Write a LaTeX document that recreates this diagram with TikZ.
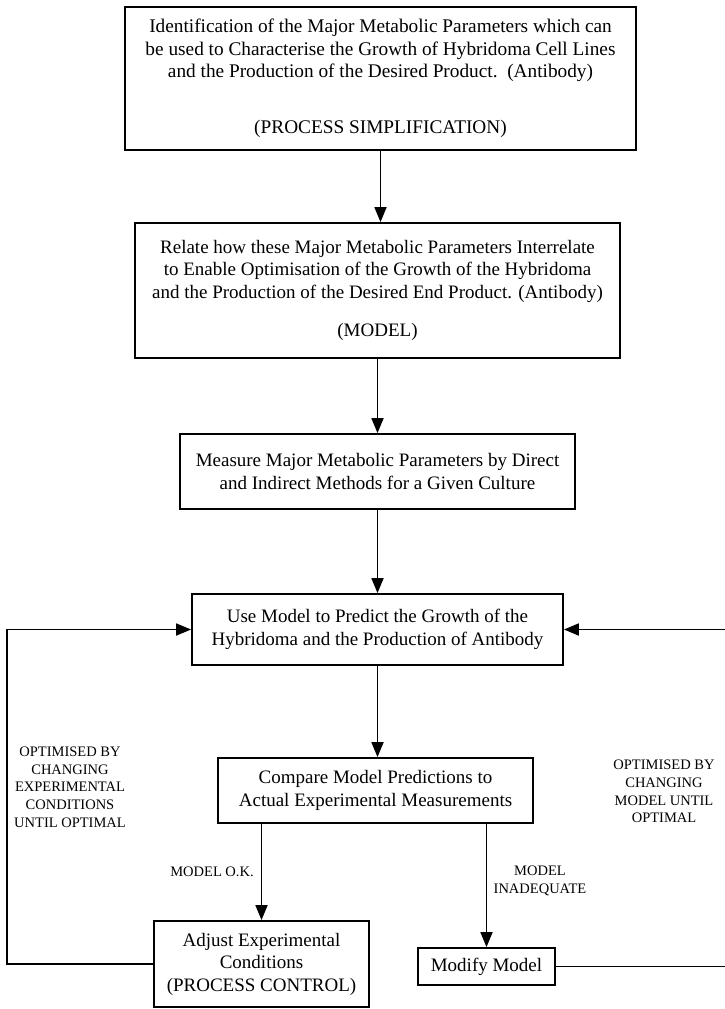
\documentclass[tikz,border=0pt]{standalone}
\usepackage{fontspec}
\setmainfont{Liberation Serif}
\usetikzlibrary{arrows.meta}
\begin{document}
\begin{tikzpicture}[x=1pt,y=-1pt,
  box/.style={draw,line width=1.8pt,align=center,inner sep=0pt,font=\fontsize{19}{22.5}\selectfont},
  lab/.style={align=center,inner sep=0pt,font=\fontsize{14.5}{17.7}\selectfont},
  conn/.style={line width=1.8pt},
  arr/.style={line width=1.8pt,-{Triangle[length=15pt,width=12pt]}}]
\useasboundingbox (0,0) rectangle (725,1009);
\node[box,minimum width=511pt,minimum height=143pt,font=\fontsize{19.3}{22.5}\selectfont] (b1) at (380.5,78.5)
  {Identification of the Major Metabolic Parameters which can\\be used to Characterise the Growth of Hybridoma Cell Lines\\and the Production of the Desired Product.\ \ (Antibody)\\[33pt](PROCESS SIMPLIFICATION)};
\node[box,minimum width=485pt,minimum height=135pt] (b2) at (377.5,290.5)
  {Relate how these Major Metabolic Parameters Interrelate\\to Enable Optimisation of the Growth of the Hybridoma\\and the Production of the Desired End Product. (Antibody)\\[16pt](MODEL)};
\node[box,minimum width=395pt,minimum height=75pt] (b3) at (377.5,471.5)
  {Measure Major Metabolic Parameters by Direct\\and Indirect Methods for a Given Culture};
\node[box,minimum width=371pt,minimum height=71pt] (b4) at (377.5,629.5)
  {Use Model to Predict the Growth of the\\Hybridoma and the Production of Antibody};
\node[box,minimum width=315pt,minimum height=65pt] (b5) at (375.5,790.5)
  {Compare Model Predictions to\\Actual Experimental Measurements};
\node[box,minimum width=215pt,minimum height=86pt] (b6) at (261.5,964)
  {Adjust Experimental\\Conditions\\(PROCESS CONTROL)};
\node[box,minimum width=137pt,minimum height=37pt] (b7) at (486.5,966.5)
  {Modify Model};
\node[lab] (ll) at (70,787) {OPTIMISED BY\\CHANGING\\EXPERIMENTAL\\CONDITIONS\\UNTIL OPTIMAL};
\node[lab] (rl) at (664,791.5) {OPTIMISED BY\\CHANGING\\MODEL UNTIL\\OPTIMAL};
\node[lab] (ok) at (212,872) {MODEL O.K.};
\node[lab] (inad) at (540,881) {MODEL\\INADEQUATE};
\coordinate (lc) at (7,0);
\coordinate (rc) at (725,0);
\draw[arr] (b1.south) -- (b1.south |- b2.north);
\draw[arr] (b2.south) -- (b2.south |- b3.north);
\draw[arr] (b3.south) -- (b3.south |- b4.north);
\draw[arr] (b4.south) -- (b4.south |- b5.north);
\draw[arr] (b5.south -| b6.north) -- (b6.north);
\draw[arr] (b5.south -| b7.north) -- (b7.north);
\draw[arr] (b6.west) -| (lc |- b4.west) -- (b4.west);
\draw[conn] (b7.east) -- (rc |- b7.east);
\draw[arr] (rc |- b4.east) -- (b4.east);
\end{tikzpicture}
\end{document}
